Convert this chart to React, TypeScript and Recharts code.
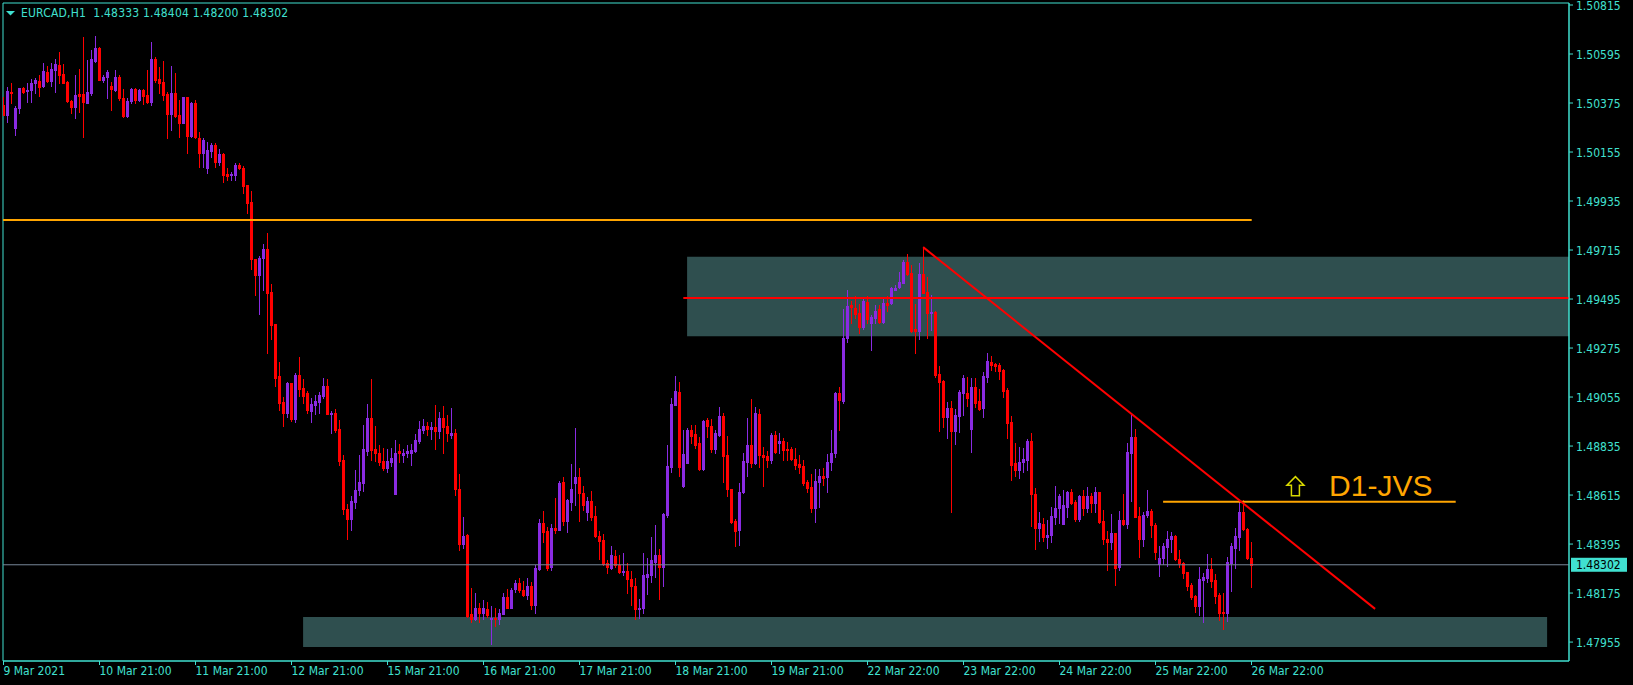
import React from 'react';
import {
  ComposedChart, Bar, XAxis, YAxis,
  ReferenceLine, ReferenceArea, ReferenceDot,
} from 'recharts';

const symbolTitle = 'EURCAD,H1';
const lastBarOhlc = [1.48333, 1.48404, 1.48200, 1.48302];

const opens = [
  1.50366, 1.50321, 1.50424, 1.50263, 1.50352, 1.50442, 1.50429, 1.50433, 1.50465, 1.50474,
  1.50451, 1.50514, 1.50474, 1.50523, 1.50546, 1.50505, 1.50469, 1.50384, 1.50357, 1.50415,
  1.50415, 1.50375, 1.50420, 1.50564, 1.50622, 1.50478, 1.50492, 1.50451, 1.50433, 1.50492,
  1.50397, 1.50316, 1.50384, 1.50438, 1.50388, 1.50433, 1.50411, 1.50379, 1.50573, 1.50483,
  1.50469, 1.50415, 1.50325, 1.50420, 1.50321, 1.50285, 1.50402, 1.50227, 1.50375, 1.50218,
  1.50150, 1.50083, 1.50160, 1.50187, 1.50110, 1.50146, 1.50056, 1.50052, 1.50052, 1.50097,
  1.50083, 1.50006, 1.49930, 1.49675, 1.49603, 1.49679, 1.49719, 1.49527, 1.49383, 1.49150,
  1.49033, 1.48984, 1.49118, 1.48957, 1.49154, 1.49096, 1.49074, 1.48993, 1.49019, 1.49033,
  1.49060, 1.49105, 1.48979, 1.48984, 1.48911, 1.48773, 1.48553, 1.48507, 1.48584, 1.48638,
  1.48670, 1.48812, 1.48961, 1.48821, 1.48804, 1.48768, 1.48736, 1.48763, 1.48620, 1.48812,
  1.48795, 1.48804, 1.48804, 1.48812, 1.48857, 1.48907, 1.48925, 1.48911, 1.48920, 1.48902,
  1.48961, 1.48925, 1.48884, 1.48894, 1.48642, 1.48395, 1.48436, 1.48082, 1.48059, 1.48108,
  1.48086, 1.48104, 1.48059, 1.48064, 1.48059, 1.48082, 1.48158, 1.48108, 1.48194, 1.48221,
  1.48189, 1.48167, 1.48207, 1.48122, 1.48283, 1.48489, 1.48455, 1.48292, 1.48467, 1.48459,
  1.48674, 1.48498, 1.48584, 1.48670, 1.48696, 1.48624, 1.48539, 1.48588, 1.48521, 1.48432,
  1.48414, 1.48310, 1.48288, 1.48342, 1.48301, 1.48270, 1.48274, 1.48239, 1.48207, 1.48104,
  1.48108, 1.48248, 1.48256, 1.48315, 1.48346, 1.48292, 1.48525, 1.48741, 1.49019, 1.49078,
  1.48656, 1.48759, 1.48907, 1.48889, 1.48848, 1.48732, 1.48952, 1.48925, 1.48821, 1.48884,
  1.48970, 1.48795, 1.48642, 1.48498, 1.48459, 1.48629, 1.48763, 1.48840, 1.48759, 1.48979,
  1.48795, 1.48790, 1.48773, 1.48884, 1.48848, 1.48857, 1.48821, 1.48821, 1.48777, 1.48755,
  1.48745, 1.48674, 1.48651, 1.48557, 1.48674, 1.48700, 1.48696, 1.48763, 1.48804, 1.49074,
  1.49037, 1.49320, 1.49468, 1.49455, 1.49432, 1.49369, 1.49482, 1.49387, 1.49410, 1.49450,
  1.49392, 1.49477, 1.49477, 1.49536, 1.49549, 1.49567, 1.49661, 1.49612, 1.49360, 1.49351,
  1.49607, 1.49527, 1.49432, 1.49437, 1.49159, 1.49127, 1.48966, 1.49006, 1.48902, 1.48970,
  1.49074, 1.49074, 1.48911, 1.49100, 1.49037, 1.49006, 1.49145, 1.49212, 1.49203, 1.49199,
  1.49177, 1.49087, 1.48943, 1.48759, 1.48728, 1.48763, 1.48773, 1.48857, 1.48620, 1.48467,
  1.48485, 1.48427, 1.48436, 1.48516, 1.48557, 1.48485, 1.48561, 1.48629, 1.48584, 1.48507,
  1.48611, 1.48557, 1.48611, 1.48579, 1.48629, 1.48498, 1.48418, 1.48405, 1.48445, 1.48292,
  1.48503, 1.48485, 1.48804, 1.48875, 1.48521, 1.48418, 1.48525, 1.48543, 1.48480, 1.48306,
  1.48333, 1.48382, 1.48418, 1.48432, 1.48328, 1.48310, 1.48270, 1.48212, 1.48162, 1.48117,
  1.48234, 1.48243, 1.48283, 1.48234, 1.48167, 1.48091, 1.48086, 1.48310, 1.48378, 1.48427,
  1.48539, 1.48463, 1.48333,
];

const highs = [
  1.50402, 1.50447, 1.50465, 1.50361, 1.50442, 1.50447, 1.50465, 1.50483, 1.50487, 1.50501,
  1.50554, 1.50541, 1.50554, 1.50573, 1.50604, 1.50550, 1.50474, 1.50388, 1.50501, 1.50528,
  1.50671, 1.50568, 1.50613, 1.50676, 1.50626, 1.50501, 1.50523, 1.50469, 1.50523, 1.50501,
  1.50438, 1.50397, 1.50442, 1.50442, 1.50438, 1.50438, 1.50523, 1.50649, 1.50582, 1.50537,
  1.50564, 1.50424, 1.50541, 1.50510, 1.50388, 1.50402, 1.50402, 1.50379, 1.50388, 1.50245,
  1.50218, 1.50200, 1.50196, 1.50196, 1.50168, 1.50150, 1.50083, 1.50065, 1.50106, 1.50106,
  1.50092, 1.50006, 1.49979, 1.49675, 1.49688, 1.49742, 1.49791, 1.49562, 1.49383, 1.49212,
  1.49056, 1.49123, 1.49118, 1.49163, 1.49234, 1.49136, 1.49083, 1.49051, 1.49065, 1.49078,
  1.49141, 1.49136, 1.48993, 1.49002, 1.48952, 1.48795, 1.48575, 1.48611, 1.48728, 1.48795,
  1.48929, 1.49024, 1.49136, 1.48925, 1.48840, 1.48826, 1.48821, 1.48826, 1.48862, 1.48844,
  1.48821, 1.48840, 1.48844, 1.48889, 1.48948, 1.48957, 1.48943, 1.48943, 1.49019, 1.48988,
  1.49015, 1.48975, 1.49006, 1.48911, 1.48709, 1.48516, 1.48441, 1.48198, 1.48176, 1.48131,
  1.48144, 1.48135, 1.48117, 1.48108, 1.48104, 1.48176, 1.48194, 1.48198, 1.48234, 1.48243,
  1.48230, 1.48243, 1.48225, 1.48301, 1.48507, 1.48543, 1.48471, 1.48485, 1.48602, 1.48678,
  1.48696, 1.48597, 1.48755, 1.48916, 1.48736, 1.48656, 1.48606, 1.48633, 1.48566, 1.48455,
  1.48441, 1.48324, 1.48387, 1.48369, 1.48346, 1.48355, 1.48310, 1.48274, 1.48243, 1.48149,
  1.48355, 1.48333, 1.48427, 1.48480, 1.48373, 1.48534, 1.48840, 1.49051, 1.49150, 1.49123,
  1.48907, 1.48916, 1.48929, 1.48929, 1.48875, 1.48952, 1.48961, 1.48957, 1.48907, 1.49010,
  1.48984, 1.48880, 1.48642, 1.48507, 1.48670, 1.48804, 1.48961, 1.49046, 1.49010, 1.49002,
  1.48830, 1.48812, 1.48894, 1.48902, 1.48894, 1.48871, 1.48853, 1.48830, 1.48826, 1.48795,
  1.48773, 1.48683, 1.48709, 1.48732, 1.48732, 1.48736, 1.48799, 1.48907, 1.49078, 1.49100,
  1.49451, 1.49536, 1.49486, 1.49509, 1.49473, 1.49500, 1.49509, 1.49423, 1.49468, 1.49468,
  1.49500, 1.49509, 1.49549, 1.49558, 1.49616, 1.49670, 1.49697, 1.49648, 1.49473, 1.49657,
  1.49728, 1.49594, 1.49513, 1.49441, 1.49194, 1.49132, 1.49033, 1.49037, 1.49002, 1.49087,
  1.49154, 1.49145, 1.49141, 1.49141, 1.49091, 1.49168, 1.49252, 1.49239, 1.49208, 1.49208,
  1.49181, 1.49096, 1.48970, 1.48848, 1.48830, 1.48826, 1.48866, 1.48894, 1.48647, 1.48539,
  1.48512, 1.48503, 1.48561, 1.48656, 1.48620, 1.48638, 1.48633, 1.48642, 1.48593, 1.48615,
  1.48638, 1.48651, 1.48624, 1.48651, 1.48629, 1.48548, 1.48455, 1.48530, 1.48445, 1.48543,
  1.48620, 1.48848, 1.48975, 1.48911, 1.48561, 1.48539, 1.48638, 1.48553, 1.48489, 1.48387,
  1.48400, 1.48455, 1.48450, 1.48436, 1.48369, 1.48315, 1.48270, 1.48221, 1.48167, 1.48292,
  1.48265, 1.48351, 1.48333, 1.48261, 1.48176, 1.48176, 1.48337, 1.48400, 1.48467, 1.48584,
  1.48593, 1.48467, 1.48404,
];

const lows = [
  1.50321, 1.50290, 1.50375, 1.50232, 1.50330, 1.50420, 1.50379, 1.50379, 1.50420, 1.50406,
  1.50447, 1.50469, 1.50451, 1.50424, 1.50465, 1.50465, 1.50379, 1.50330, 1.50307, 1.50334,
  1.50223, 1.50375, 1.50411, 1.50559, 1.50478, 1.50469, 1.50397, 1.50343, 1.50429, 1.50388,
  1.50312, 1.50312, 1.50375, 1.50375, 1.50384, 1.50370, 1.50375, 1.50366, 1.50469, 1.50420,
  1.50388, 1.50218, 1.50254, 1.50312, 1.50223, 1.50285, 1.50150, 1.50223, 1.50218, 1.50088,
  1.50088, 1.50061, 1.50132, 1.50088, 1.50097, 1.50020, 1.50029, 1.50029, 1.50029, 1.50079,
  1.49971, 1.49881, 1.49629, 1.49513, 1.49428, 1.49536, 1.49252, 1.49315, 1.49105, 1.48997,
  1.48925, 1.48966, 1.48948, 1.48943, 1.49060, 1.49028, 1.48984, 1.48943, 1.48979, 1.48984,
  1.49051, 1.48979, 1.48894, 1.48898, 1.48750, 1.48530, 1.48418, 1.48459, 1.48557, 1.48615,
  1.48633, 1.48795, 1.48773, 1.48768, 1.48750, 1.48728, 1.48719, 1.48745, 1.48620, 1.48763,
  1.48763, 1.48786, 1.48750, 1.48808, 1.48848, 1.48894, 1.48884, 1.48866, 1.48821, 1.48871,
  1.48804, 1.48857, 1.48871, 1.48615, 1.48369, 1.48378, 1.48068, 1.48046, 1.48055, 1.48046,
  1.48059, 1.48068, 1.47947, 1.48028, 1.48037, 1.48082, 1.48108, 1.48108, 1.48180, 1.48180,
  1.48162, 1.48149, 1.48104, 1.48086, 1.48279, 1.48405, 1.48279, 1.48279, 1.48445, 1.48459,
  1.48480, 1.48450, 1.48548, 1.48570, 1.48498, 1.48548, 1.48503, 1.48503, 1.48427, 1.48328,
  1.48301, 1.48265, 1.48283, 1.48292, 1.48265, 1.48256, 1.48176, 1.48122, 1.48059, 1.48064,
  1.48086, 1.48171, 1.48225, 1.48248, 1.48149, 1.48207, 1.48516, 1.48719, 1.49019, 1.48700,
  1.48651, 1.48759, 1.48848, 1.48826, 1.48728, 1.48728, 1.48875, 1.48808, 1.48804, 1.48880,
  1.48674, 1.48611, 1.48489, 1.48387, 1.48391, 1.48624, 1.48700, 1.48741, 1.48755, 1.48741,
  1.48656, 1.48741, 1.48759, 1.48804, 1.48804, 1.48773, 1.48773, 1.48773, 1.48732, 1.48714,
  1.48660, 1.48629, 1.48539, 1.48494, 1.48561, 1.48660, 1.48629, 1.48728, 1.48786, 1.48907,
  1.49028, 1.49302, 1.49387, 1.49410, 1.49342, 1.49360, 1.49387, 1.49266, 1.49387, 1.49387,
  1.49387, 1.49441, 1.49473, 1.49536, 1.49544, 1.49567, 1.49603, 1.49346, 1.49252, 1.49315,
  1.49522, 1.49320, 1.49356, 1.49145, 1.48902, 1.48920, 1.48871, 1.48539, 1.48844, 1.48898,
  1.48975, 1.49015, 1.48808, 1.49010, 1.48997, 1.48966, 1.49123, 1.49177, 1.49172, 1.49136,
  1.49056, 1.48871, 1.48683, 1.48700, 1.48691, 1.48719, 1.48728, 1.48476, 1.48373, 1.48409,
  1.48409, 1.48378, 1.48405, 1.48485, 1.48489, 1.48485, 1.48516, 1.48575, 1.48498, 1.48498,
  1.48525, 1.48539, 1.48539, 1.48539, 1.48489, 1.48395, 1.48279, 1.48373, 1.48212, 1.48279,
  1.48480, 1.48467, 1.48588, 1.48516, 1.48337, 1.48387, 1.48516, 1.48427, 1.48328, 1.48252,
  1.48306, 1.48297, 1.48360, 1.48324, 1.48292, 1.48243, 1.48189, 1.48149, 1.48091, 1.48077,
  1.48046, 1.48225, 1.48203, 1.48131, 1.48055, 1.48014, 1.48050, 1.48185, 1.48288, 1.48369,
  1.48459, 1.48328, 1.48200,
];

const closes = [
  1.50321, 1.50429, 1.50420, 1.50352, 1.50442, 1.50424, 1.50433, 1.50465, 1.50478, 1.50447,
  1.50519, 1.50474, 1.50528, 1.50550, 1.50501, 1.50465, 1.50384, 1.50357, 1.50411, 1.50406,
  1.50379, 1.50424, 1.50573, 1.50622, 1.50478, 1.50492, 1.50514, 1.50438, 1.50492, 1.50397,
  1.50316, 1.50384, 1.50438, 1.50388, 1.50433, 1.50406, 1.50379, 1.50573, 1.50478, 1.50465,
  1.50411, 1.50325, 1.50420, 1.50316, 1.50285, 1.50402, 1.50227, 1.50375, 1.50223, 1.50150,
  1.50209, 1.50164, 1.50187, 1.50110, 1.50146, 1.50052, 1.50047, 1.50056, 1.50097, 1.50083,
  1.50002, 1.49926, 1.49675, 1.49603, 1.49679, 1.49719, 1.49522, 1.49378, 1.49141, 1.49028,
  1.48984, 1.49118, 1.48957, 1.49154, 1.49091, 1.49060, 1.48997, 1.49024, 1.49037, 1.49065,
  1.49105, 1.48979, 1.48984, 1.48907, 1.48768, 1.48553, 1.48507, 1.48588, 1.48638, 1.48674,
  1.48821, 1.48961, 1.48818, 1.48804, 1.48763, 1.48736, 1.48768, 1.48781, 1.48804, 1.48804,
  1.48804, 1.48812, 1.48818, 1.48862, 1.48911, 1.48925, 1.48911, 1.48920, 1.48902, 1.48961,
  1.48920, 1.48894, 1.48894, 1.48642, 1.48395, 1.48432, 1.48073, 1.48059, 1.48108, 1.48086,
  1.48108, 1.48077, 1.48064, 1.48059, 1.48086, 1.48158, 1.48108, 1.48189, 1.48221, 1.48189,
  1.48167, 1.48207, 1.48122, 1.48288, 1.48489, 1.48450, 1.48288, 1.48467, 1.48459, 1.48670,
  1.48498, 1.48593, 1.48642, 1.48696, 1.48624, 1.48570, 1.48588, 1.48516, 1.48432, 1.48409,
  1.48306, 1.48292, 1.48346, 1.48301, 1.48270, 1.48274, 1.48239, 1.48207, 1.48104, 1.48108,
  1.48256, 1.48261, 1.48324, 1.48346, 1.48292, 1.48530, 1.48745, 1.49024, 1.49083, 1.48741,
  1.48799, 1.48907, 1.48880, 1.48840, 1.48732, 1.48948, 1.48925, 1.48821, 1.48894, 1.48970,
  1.48790, 1.48642, 1.48494, 1.48455, 1.48629, 1.48768, 1.48840, 1.48759, 1.48984, 1.48795,
  1.48786, 1.48773, 1.48884, 1.48808, 1.48857, 1.48818, 1.48818, 1.48777, 1.48750, 1.48741,
  1.48670, 1.48647, 1.48557, 1.48678, 1.48700, 1.48691, 1.48763, 1.48804, 1.49074, 1.49042,
  1.49320, 1.49464, 1.49459, 1.49428, 1.49369, 1.49486, 1.49405, 1.49414, 1.49441, 1.49392,
  1.49477, 1.49468, 1.49544, 1.49544, 1.49571, 1.49661, 1.49607, 1.49351, 1.49351, 1.49607,
  1.49522, 1.49432, 1.49437, 1.49154, 1.49123, 1.48966, 1.49006, 1.48902, 1.48975, 1.49078,
  1.49141, 1.49051, 1.49100, 1.49028, 1.49002, 1.49150, 1.49216, 1.49199, 1.49194, 1.49172,
  1.49083, 1.48939, 1.48750, 1.48728, 1.48763, 1.48777, 1.48857, 1.48620, 1.48467, 1.48489,
  1.48427, 1.48436, 1.48521, 1.48557, 1.48611, 1.48570, 1.48629, 1.48579, 1.48507, 1.48611,
  1.48557, 1.48611, 1.48579, 1.48629, 1.48494, 1.48418, 1.48405, 1.48445, 1.48288, 1.48503,
  1.48485, 1.48808, 1.48875, 1.48516, 1.48418, 1.48525, 1.48543, 1.48480, 1.48360, 1.48333,
  1.48387, 1.48418, 1.48432, 1.48328, 1.48310, 1.48265, 1.48207, 1.48158, 1.48117, 1.48239,
  1.48248, 1.48283, 1.48230, 1.48162, 1.48086, 1.48086, 1.48315, 1.48387, 1.48432, 1.48539,
  1.48463, 1.48333, 1.48302,
];

const timeTicks = [0, 24, 48, 72, 96, 120, 144, 168, 192, 216, 240, 264, 288, 312];
const timeLabels = [
  '9 Mar 2021', '10 Mar 21:00', '11 Mar 21:00', '12 Mar 21:00', '15 Mar 21:00',
  '16 Mar 21:00', '17 Mar 21:00', '18 Mar 21:00', '19 Mar 21:00', '22 Mar 22:00',
  '23 Mar 22:00', '24 Mar 22:00', '25 Mar 22:00', '26 Mar 22:00',
];
const priceTicks = [
  1.50815, 1.50595, 1.50375, 1.50155, 1.49935, 1.49715, 1.49495,
  1.49275, 1.49055, 1.48835, 1.48615, 1.48395, 1.48175, 1.47955,
];

const lastPrice = 1.48302;
const longLevel = 1.49850;
const midLevel = 1.49500;
const jvsLevel = 1.48585;
const upperZone = [1.49328, 1.49685];
const lowerZone = [1.47933, 1.48068];
const trendStart = { bar: 229.9, price: 1.49728 };
const trendEnd = { bar: 342.9, price: 1.48104 };

const FG = '#40e0d0';
const BULL = '#8a2be2';
const BEAR = '#ff0000';
const ZONE = '#2f4f4f';
const FONT = "'DejaVu Sans Condensed', 'DejaVu Sans', sans-serif";

const X_DOMAIN: [number, number] = [-0.125, 391.375];
const Y_DOMAIN: [number, number] = [1.47870, 1.50824];

const candles = opens.map((open, i) => ({
  idx: i, open, high: highs[i], low: lows[i], close: closes[i],
}));

function Candle(props: any) {
  const { x, y, width, height, payload } = props;
  if (x == null || y == null || !payload) return null;
  const top = Math.min(y, y + height);
  const bottom = Math.max(y, y + height);
  const { open, high, low, close } = payload;
  const span = high - low || 1e-9;
  const toPx = (p: number) => top + ((high - p) / span) * (bottom - top);
  const cx = x + width / 2;
  const color = close > open ? BULL : BEAR;
  const bodyTop = Math.round(toPx(Math.max(open, close)));
  const bodyBot = Math.round(toPx(Math.min(open, close)));
  const wickTop = Math.round(top);
  const wickBot = Math.round(bottom);
  return (
    <g shapeRendering="crispEdges">
      <rect x={Math.floor(cx)} y={wickTop} width={1} height={Math.max(1, wickBot - wickTop + 1)} fill={color} />
      <rect x={Math.round(cx - 1.5)} y={bodyTop} width={3} height={Math.max(1, bodyBot - bodyTop + 1)} fill={color} />
    </g>
  );
}

function TimeTick(props: any) {
  const { x, y, payload } = props;
  const label = timeLabels[timeTicks.indexOf(payload.value)];
  return (
    <text x={x} y={y + 8} fill={FG} fontSize={12} fontFamily={FONT} textAnchor="start">
      {label}
    </text>
  );
}

function PriceTick(props: any) {
  const { x, y, payload } = props;
  return (
    <text x={x} y={y + 5} fill={FG} fontSize={12} fontFamily={FONT} textAnchor="start">
      {Number(payload.value).toFixed(5)}
    </text>
  );
}

function PriceTag(props: any) {
  const vb = props.viewBox || {};
  const x = (vb.x ?? 0) + (vb.width ?? 0) + 2;
  const y = vb.y ?? 0;
  return (
    <g>
      <rect x={x} y={y - 7} width={56} height={14} fill={FG} />
      <text x={x + 5} y={y + 4.5} fill="#000" fontSize={12} fontFamily={FONT}>
        {lastPrice.toFixed(5)}
      </text>
    </g>
  );
}

export default function App() {
  const title = `${symbolTitle}  ${lastBarOhlc.map((v) => v.toFixed(5)).join(' ')}`;
  return (
    <div style={{ position: 'fixed', left: 0, top: 0, width: 1633, height: 685, background: '#000' }}>
      <ComposedChart
        width={1633}
        height={685}
        data={candles}
        margin={{ top: 3, right: 0, bottom: 0, left: 3 }}
      >
        <ReferenceArea
          x1={74.9} x2={385.9}
          y1={lowerZone[0]} y2={lowerZone[1]}
          fill={ZONE} fillOpacity={1} stroke="none" ifOverflow="visible"
        />
        <ReferenceArea
          x1={170.9} x2={X_DOMAIN[1]}
          y1={upperZone[0]} y2={upperZone[1]}
          fill={ZONE} fillOpacity={1} stroke="none" ifOverflow="visible"
        />
        <ReferenceArea
          x1={X_DOMAIN[0]} x2={X_DOMAIN[1]} y1={Y_DOMAIN[0]} y2={Y_DOMAIN[1]}
          fill="none" stroke={FG} strokeWidth={1} ifOverflow="visible"
        />
        <XAxis
          dataKey="idx"
          type="number"
          domain={X_DOMAIN}
          allowDataOverflow
          ticks={timeTicks}
          interval={0}
          height={24}
          tickSize={4}
          tickMargin={2}
          stroke={FG}
          tick={<TimeTick />}
        />
        <YAxis
          orientation="right"
          type="number"
          domain={Y_DOMAIN}
          allowDataOverflow
          ticks={priceTicks}
          interval={0}
          width={64}
          tickSize={4}
          tickMargin={3}
          stroke={FG}
          tick={<PriceTick />}
        />
        <Bar
          dataKey={(d: any) => [d.low, d.high]}
          shape={<Candle />}
          barSize={3}
          isAnimationActive={false}
        />
        <ReferenceLine
          segment={[{ x: X_DOMAIN[0], y: longLevel }, { x: 312.05, y: longLevel }]}
          stroke="#ffa500" strokeWidth={2}
        />
        <ReferenceLine
          segment={[{ x: 169.95, y: midLevel }, { x: X_DOMAIN[1], y: midLevel }]}
          stroke="#ff0000" strokeWidth={2}
        />
        <ReferenceLine
          segment={[{ x: 289.9, y: jvsLevel }, { x: 363.05, y: jvsLevel }]}
          stroke="#ffa500" strokeWidth={2}
        />
        <ReferenceLine
          segment={[{ x: trendStart.bar, y: trendStart.price }, { x: trendEnd.bar, y: trendEnd.price }]}
          stroke="#ff0000" strokeWidth={2}
        />
        <ReferenceLine
          y={lastPrice}
          stroke="#778899" strokeWidth={1}
          label={<PriceTag />}
        />
        <ReferenceDot
          x={322.98} y={1.48655} r={1}
          shape={(p: any) => (
            <polygon
              points={[
                [p.cx, p.cy - 9.5], [p.cx + 8.5, p.cy - 1], [p.cx + 4, p.cy - 1], [p.cx + 4, p.cy + 9.5],
                [p.cx - 4, p.cy + 9.5], [p.cx - 4, p.cy - 1], [p.cx - 8.5, p.cy - 1],
              ].map((q) => q.join(',')).join(' ')}
              fill="none" stroke="#d8d800" strokeWidth={1.5}
            />
          )}
        />
        <ReferenceDot
          x={331.4} y={1.48610} r={1}
          shape={(p: any) => (
            <text x={p.cx} y={p.cy} fill="#ffa500" fontSize={30} fontFamily="'Liberation Sans', Arial, sans-serif">
              D1-JVS
            </text>
          )}
        />
      </ComposedChart>
      <svg style={{ position: 'absolute', left: 0, top: 0 }} width={400} height={24}>
        <polygon points="6,11 15,11 10.5,15.5" fill={FG} />
        <text x={21} y={17} fill={FG} fontSize={12} fontFamily={FONT} letterSpacing={0.2} style={{ whiteSpace: 'pre' }}>
          {title}
        </text>
      </svg>
    </div>
  );
}
